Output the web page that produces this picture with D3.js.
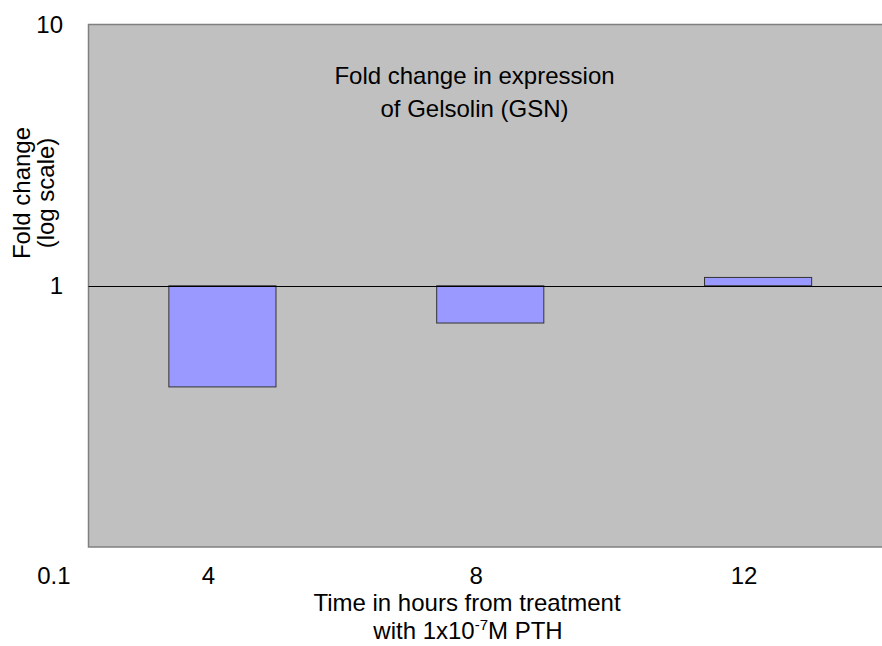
<!DOCTYPE html>
<html>
<head>
<meta charset="utf-8">
<script src="https://cdn.jsdelivr.net/npm/d3@7"></script>
<style>
  html, body { margin: 0; padding: 0; background: #ffffff; }
  svg { display: block; }
  text { font-family: "Liberation Sans", Arial, sans-serif; fill: #000; }
</style>
</head>
<body>
<svg id="chart" width="882" height="646"></svg>
<script>
// Time points (hours after PTH treatment) and fold change in GSN expression
const categories = ["4", "8", "12"];
const foldChange = [0.41, 0.72, 1.076];
const yTicks = [0.1, 1, 10];
const chartTitle = ["Fold change in expression", "of Gelsolin (GSN)"];
const yTitle = ["Fold change", "(log scale)"];

const W = 882, H = 646;
const FS = 24;
const plot = { left: 88.5, top: 24.5, right: 892, bottom: 547 };

const svg = d3.select("#chart");

const y = d3.scaleLog().domain([0.1, 10]).range([plot.bottom, plot.top]);
const x = d3.scaleBand().domain(categories).range([plot.left, plot.right])
  .paddingInner(0.6).paddingOuter(0.3);

// plot background
svg.append("rect")
  .attr("x", plot.left).attr("y", plot.top)
  .attr("width", plot.right - plot.left).attr("height", plot.bottom - plot.top)
  .attr("fill", "#c0c0c0");

// frame on top, left and bottom
svg.append("path")
  .attr("d", `M${plot.right},${plot.top}H${plot.left}V${plot.bottom}H${plot.right}`)
  .attr("fill", "none").attr("stroke", "#808080").attr("stroke-width", 1.5);

// bars grow from the 1-fold baseline
svg.append("g").selectAll("rect")
  .data(foldChange)
  .join("rect")
  .attr("x", (d, i) => x(categories[i]))
  .attr("width", x.bandwidth())
  .attr("y", d => Math.min(y(d), y(1)))
  .attr("height", d => Math.abs(y(d) - y(1)))
  .attr("fill", "#9999ff")
  .attr("stroke", "#333333")
  .attr("stroke-width", 1);

// baseline at 1
svg.append("line")
  .attr("x1", plot.left).attr("x2", W)
  .attr("y1", Math.round(y(1)) + 0.5).attr("y2", Math.round(y(1)) + 0.5)
  .attr("stroke", "#000").attr("stroke-width", 1);

// y axis labels
const yAxis = d3.axisLeft(y).tickValues(yTicks).tickFormat(d3.format("")).tickSize(0).tickPadding(25.5);
const gy = svg.append("g").attr("transform", `translate(${plot.left},0)`).call(yAxis);
gy.select(".domain").remove();
gy.attr("font-size", null).attr("font-family", null);
gy.selectAll("text")
  .style("font-family", '"Liberation Sans", Arial, sans-serif')
  .style("font-size", FS + "px")
  .attr("fill", "#000");
// lowest label sits on the category-label row
gy.selectAll(".tick").filter(d => d === 0.1).select("text")
  .attr("dy", "1.5em").attr("x", -18);

// category labels
const xAxis = d3.axisBottom(x).tickSize(0).tickPadding(19.5);
const gx = svg.append("g").attr("transform", `translate(-14,${plot.bottom})`).call(xAxis);
gx.select(".domain").remove();
gx.attr("font-size", null).attr("font-family", null);
gx.selectAll("text")
  .style("font-family", '"Liberation Sans", Arial, sans-serif')
  .style("font-size", FS + "px")
  .attr("fill", "#000");

// chart title inside the plot
svg.append("text")
  .attr("text-anchor", "middle")
  .attr("font-size", FS)
  .selectAll("tspan").data(chartTitle).join("tspan")
  .attr("x", 474.5).attr("y", (d, i) => 83.5 + i * 33)
  .text(d => d);

// y axis title
svg.append("text")
  .attr("transform", "translate(0,193) rotate(-90)")
  .attr("text-anchor", "middle")
  .attr("font-size", FS)
  .selectAll("tspan").data(yTitle).join("tspan")
  .attr("x", 0).attr("y", (d, i) => 30 + i * 24)
  .text(d => d);

// x axis title
svg.append("text").attr("text-anchor", "middle").attr("font-size", FS)
  .attr("x", 467).attr("y", 611).text("Time in hours from treatment");
const l2 = svg.append("text").attr("text-anchor", "middle").attr("font-size", FS)
  .attr("x", 468).attr("y", 639);
l2.append("tspan").text("with 1x10");
l2.append("tspan").attr("font-size", 15).attr("dy", -9).text("-7");
l2.append("tspan").attr("dy", 9).text("M PTH");
</script>
</body>
</html>
